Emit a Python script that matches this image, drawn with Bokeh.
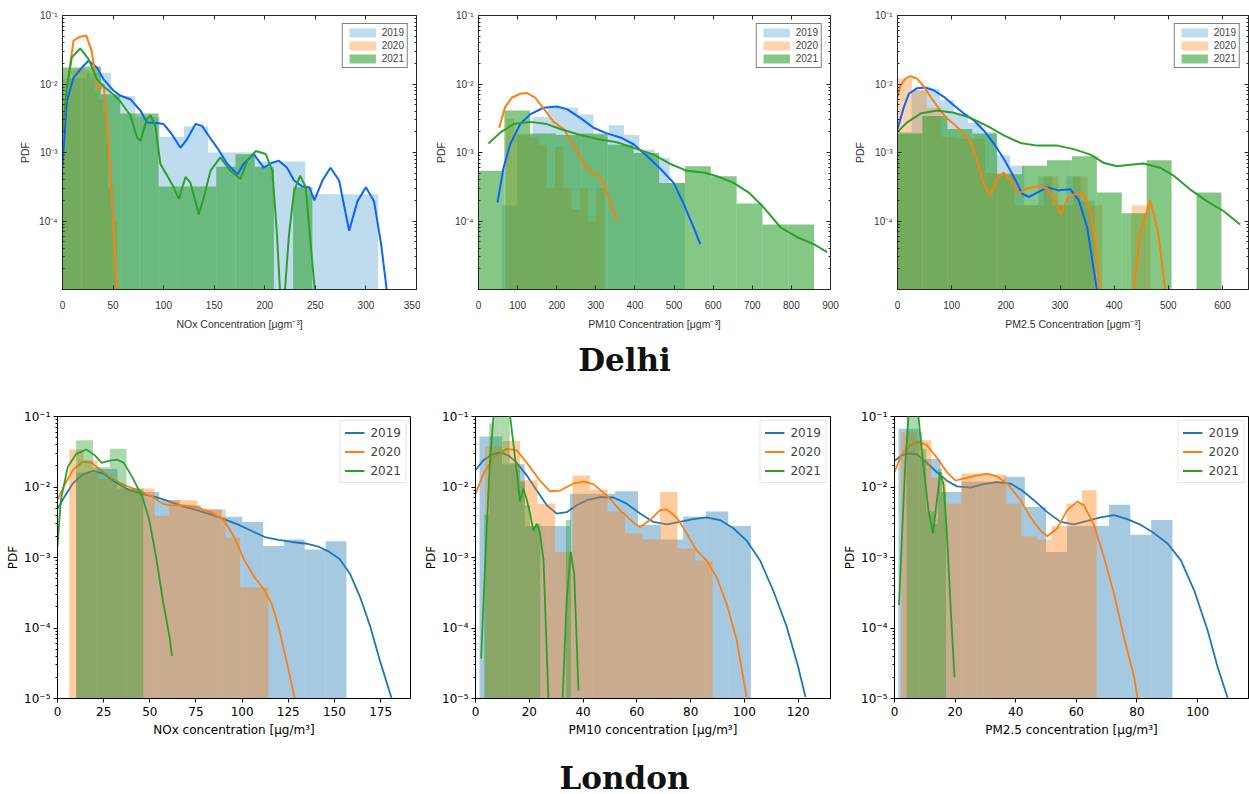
from bokeh.plotting import figure
from bokeh.models import (Range1d, FixedTicker, LinearAxis, LogAxis, Legend,
                          LegendItem, Div, CustomJSTickFormatter)
from bokeh.layouts import row, column
from bokeh.embed import file_html
from bokeh.resources import INLINE

NAN = float("nan")
years = ["2019", "2020", "2021"]

# ---------------- Delhi NOx ----------------
dn_b19_edges = [0, 24, 48, 72, 96, 120, 144, 168, 192, 216, 240, 264, 288, 312]
dn_b19_h = [0.012, 0.0146, 0.0066, 0.0033, 0.0017, 0.0024, 0.001, 0.001, 0.00074, 0.00074, 0.000245, 0.000245, 0.000245]
dn_b20_edges = [0, 4.5, 9, 13.5, 18, 22.5, 27, 31.5, 36, 40.5, 45, 49.5, 54]
dn_b20_h = [0.004, 0.012, 0.016, 0.017, 0.017, 0.016, 0.012, 0.008, 0.006, 0.004, 0.0003, 0.0001]
dn_b21_edges = [0, 19, 38, 57, 76, 95, 114, 133, 152, 171, 190, 209, 228, 247]
dn_b21_h = [0.0174, 0.018, 0.0071, 0.0037, 0.0037, 0.00032, 0.00032, 0.00032, 0.00062, 0.00094, 0.00062, 0, 0.00031]
dn_c19_x = [0, 4.3, 10.9, 19.2, 25.8, 34, 40.6, 50, 57, 67, 77, 83.6, 93.5, 100, 108, 116.6, 123, 131.5, 138, 144.7,
            153, 163, 173, 179, 189, 199, 207.5, 214, 222, 229, 237, 244, 249, 257, 265, 273.5, 283.4, 291.7, 300, 308, 315, 320.5]
dn_c19_y = [6.5e-4, 5.6e-3, 1.24e-2, 1.74e-2, 2.19e-2, 1.74e-2, 1.17e-2, 8.1e-3, 6.8e-3, 6.0e-3, 4.1e-3, 2.75e-3, 2.7e-3, 2.6e-3,
            1.86e-3, 1.17e-3, 1.55e-3, 2.6e-3, 2.45e-3, 1.74e-3, 1.17e-3, 6.8e-4, 4.8e-4, 6.8e-4, 9.5e-4, 6.0e-4, 7.1e-4, 7.6e-4,
            6.0e-4, 3.9e-4, 3.2e-4, 3.1e-4, 2.0e-4, 3.9e-4, 6.0e-4, 3.9e-4, 7.2e-5, 1.95e-4, 3.1e-4, 1.95e-4, 4.6e-5, 1e-5]
dn_c20_x = [0, 4.3, 10.9, 17.5, 23.5, 29, 34, 37, 40.6, 44, 49, 54]
dn_c20_y = [2.1e-3, 8.9e-3, 4.3e-2, 4.9e-2, 5.1e-2, 3.0e-2, 9.3e-3, 8.3e-3, 1.0e-2, 3.2e-3, 2.0e-4, 1e-5]
dn_c21_x = [0, 4.3, 9.2, 17.5, 25.8, 34, 40.6, 50, 57, 67, 73.7, 77, 83.6, 87, 91.8, 96.8, 103.4, 110, 115, 121.6, 126.5,
            134.8, 139.7, 146.3, 156, 166, 176, 182.7, 191, 201, 207.5, 212, 215, NAN, 220, 224, 229, 235, 240.5, 246, 249.4]
dn_c21_y = [1.86e-3, 8.9e-3, 2.45e-2, 3.3e-2, 2.3e-2, 1.17e-2, 9.3e-3, 7.1e-3, 5.6e-3, 3.5e-3, 1.66e-3, 1.48e-3, 3.1e-3,
            3.5e-3, 2.45e-3, 6.8e-4, 4.6e-4, 3.1e-4, 2.1e-4, 4.4e-4, 3.6e-4, 1.26e-4, 2.2e-4, 5.4e-4, 8.5e-4, 5.4e-4, 4.1e-4,
            7.6e-4, 1.05e-3, 9.5e-4, 5.4e-4, 6.5e-5, 1e-5, NAN, 1e-5, 6.5e-5, 2.75e-4, 4.6e-4, 3.1e-4, 3.6e-5, 1e-5]

# ---------------- Delhi PM10 ----------------
dp10_b19_edges = [60, 99, 138, 177, 216, 255, 294, 333, 372, 411, 450, 489, 528]
dp10_b19_h = [0.00017, 0.0018, 0.0033, 0.0045, 0.0045, 0.0036, 0.0018, 0.0025, 0.0018, 0.0011, 0.00083, 0.00036]
dp10_b20_edges = [70, 91, 112, 133, 154, 175, 196, 217, 238, 259, 280, 301, 322]
dp10_b20_h = [0.0031, 0.0019, 0.0019, 0.0017, 0.0013, 0.0003, 0.0012, 0.0003, 0.00015, 0.0003, 0.0001, 0.0003]
dp10_b21_edges = [0, 66, 132, 198, 264, 330, 396, 462, 528, 594, 660, 726, 792, 858]
dp10_b21_h = [0.00054, 0.0041, 0.0019, 0.0018, 0.0019, 0.0013, 0.00098, 0.00036, 0.00063, 0.00045, 0.00018, 0.000089, 0.000089]
dp10_c19_x = [48.6, 64, 81, 106.6, 132, 166, 200.5, 226, 260, 294, 328, 362.6, 396.7, 430.8, 465, 499, 524.6, 550, 567]
dp10_c19_y = [1.86e-4, 6.0e-4, 1.32e-3, 2.6e-3, 3.6e-3, 4.5e-3, 4.7e-3, 4.3e-3, 3.2e-3, 2.3e-3, 1.9e-3, 1.66e-3, 1.32e-3,
              8.9e-4, 5.8e-4, 3.6e-4, 1.78e-4, 8.1e-5, 4.6e-5]
dp10_c20_x = [52.9, 68, 85, 106.6, 123.7, 145, 170.6, 192, 217.5, 243, 268.7, 290, 311, 324, 341, 354]
dp10_c20_y = [2.3e-3, 4.6e-3, 6.3e-3, 7.2e-3, 7.4e-3, 6.3e-3, 4.1e-3, 2.8e-3, 2.2e-3, 1.32e-3, 6.8e-4, 5.1e-4, 4.4e-4,
              3.1e-4, 1.58e-4, 1.0e-4]
dp10_c21_x = [25.6, 55.5, 89.6, 132, 175, 209, 251.7, 302.8, 354, 396.7, 448, 490.5, 533, 576, 610, 652.6, 691, 729, 772, 815, 857, 891.5]
dp10_c21_y = [1.35e-3, 1.95e-3, 2.6e-3, 2.8e-3, 2.6e-3, 2.2e-3, 1.86e-3, 1.58e-3, 1.41e-3, 1.17e-3, 9.3e-4, 6.8e-4,
              5.4e-4, 5.1e-4, 4.5e-4, 3.6e-4, 2.6e-4, 1.58e-4, 8.1e-5, 5.8e-5, 4.6e-5, 3.5e-5]

# ---------------- Delhi PM2.5 ----------------
dp25_b19_edges = [0, 26, 52, 78, 104, 130, 156, 182, 208, 234, 260, 286, 312, 338, 364]
dp25_b19_h = [0.002, 0.0081, 0.0085, 0.0058, 0.0037, 0.0027, 0.002, 0.00091, 0.00064, 0.00017, 0.00045, 0.00017, 0.00045, 0.0002]
dp25_b20_edges = [0, 27, 54, 81, 108, 135, 162, 189, 216, 243, 270, 297, 324, 351, 378, 405, 432, 467]
dp25_b20_h = [0.012, 0.0081, 0.0045, 0.0017, 0.0016, 0.0016, 0.0005, 0.0005, 0.00017, 0.00017, 0.00045, 0.00017, 0.00045,
              0.00017, 0, 0, 0.00017]
dp25_b21_edges = [0, 46, 92, 138, 184, 230, 276, 322, 368, 414, 460, 506, 552, 598]
dp25_b21_h = [0.0019, 0.0034, 0.0022, 0.0019, 0.00048, 0.00064, 0.00077, 0.00088, 0.00026, 0.00013, 0.00077, 0, 0.00026]
dp25_c19_x = [0, 11.7, 20.9, 36.3, 51.7, 67, 85.5, 104, 122.4, 140.9, 159.3, 177.8, 196.3, 214.8, 230.2, 242.4, 257.9,
              276.4, 297.8, 319.4, 334.7, 350.2, 368]
dp25_c19_y = [2.2e-3, 4.6e-3, 7.2e-3, 8.7e-3, 8.9e-3, 8.1e-3, 6.5e-3, 4.9e-3, 3.7e-3, 2.95e-3, 2.1e-3, 1.35e-3, 8.1e-4,
              4.4e-4, 2.5e-4, 2.24e-4, 2.6e-4, 3.1e-4, 2.8e-4, 2.9e-4, 2.0e-4, 8.1e-5, 1e-5]
dp25_c20_x = [0, 5.5, 14.8, 24, 36.3, 48.6, 64, 76.3, 88.6, 104, 119.4, 134.8, 147, 159.4, 171.7, 184, 196.3, 208.6, 224,
              239.4, 257.9, 276.4, 291.7, 301, 313.3, 328.6, 344, 356, 365, 374, NAN, 435.7, 448, 466.5, 481.8, 494]
dp25_c20_y = [6.6e-3, 9.5e-3, 1.2e-2, 1.3e-2, 1.2e-2, 9.2e-3, 6.0e-3, 4.4e-3, 3.3e-3, 2.6e-3, 2.0e-3, 1.42e-3, 7.6e-4,
              3.5e-4, 2.4e-4, 4.2e-4, 5.1e-4, 3.9e-4, 2.5e-4, 3.0e-4, 3.2e-4, 3.0e-4, 1.86e-4, 1.26e-4, 2.1e-4, 2.5e-4,
              2.45e-4, 1.4e-4, 4.6e-5, 1e-5, NAN, 1e-5, 6.5e-5, 2.0e-4, 6.5e-5, 1e-5]
dp25_c21_x = [0, 17.8, 42.5, 73.3, 104, 134.8, 165.6, 196.3, 227, 257.9, 294.8, 325.5, 356.3, 380, 405, 429.5, 454, 485,
              509.5, 540, 571, 601.8, 632.6]
dp25_c21_y = [2.0e-3, 2.75e-3, 3.7e-3, 4.1e-3, 3.8e-3, 3.2e-3, 2.45e-3, 1.78e-3, 1.38e-3, 1.26e-3, 1.26e-3, 1.12e-3,
              9.3e-4, 7.1e-4, 6.3e-4, 6.6e-4, 6.9e-4, 6.0e-4, 4.6e-4, 2.9e-4, 1.95e-4, 1.4e-4, 8.9e-5]

# ---------------- London NOx ----------------
ln_b19_edges = [10, 21.3, 32.5, 43.8, 55.1, 66.3, 77.6, 88.9, 100.1, 111.4, 122.7, 133.9, 145.2, 156.5]
ln_b19_h = [0.016, 0.018, 0.0095, 0.0085, 0.0065, 0.0055, 0.0048, 0.0038, 0.0032, 0.00145, 0.0018, 0.0013, 0.0017]
ln_b20_edges = [6.4, 14.1, 21.8, 29.5, 37.2, 44.9, 52.6, 60.3, 68, 75.7, 83.4, 91.1, 98.8, 106.5, 114.2]
ln_b20_h = [0.034, 0.024, 0.013, 0.011, 0.0095, 0.0095, 0.0039, 0.0065, 0.0065, 0.0048, 0.0048, 0.0019, 0.00038, 0.00038]
ln_b21_edges = [10.1, 19.2, 28.3, 37.4, 46.5]
ln_b21_h = [0.046, 0.019, 0.035, 0.0095]
ln_c19_x = [0, 3.7, 8.3, 13.8, 19.3, 24.9, 31.3, 38.7, 46, 53.4, 60.8, 68, 75.5, 82.9, 90.2, 97.6, 105, 112.3, 119.7, 127,
            134.4, 141.8, 147.3, 152.8, 158.4, 163.9, 169.4, 175, 181]
ln_c19_y = [4.9e-3, 7.2e-3, 1.12e-2, 1.51e-2, 1.7e-2, 1.55e-2, 1.17e-2, 9.1e-3, 7.9e-3, 7.2e-3, 6.2e-3, 5.3e-3, 4.7e-3,
            4.1e-3, 3.5e-3, 2.95e-3, 2.4e-3, 1.95e-3, 1.78e-3, 1.66e-3, 1.58e-3, 1.41e-3, 1.2e-3, 9.5e-4, 5.9e-4, 2.75e-4,
            1.05e-4, 3.2e-5, 1e-5]
ln_c20_x = [0, 3.7, 8.3, 13.8, 18.4, 23.9, 29.5, 36.8, 44.2, 51.6, 57, 60.8, 68, 75.5, 82.9, 90.2, 95.7, 101.3, 106.8,
            112.3, 116, 119.7, 124.3, 128.5]
ln_c20_y = [6.6e-3, 1.05e-2, 1.74e-2, 2.3e-2, 2.2e-2, 1.7e-2, 1.32e-2, 1.05e-2, 8.9e-3, 7.2e-3, 5.8e-3, 5.5e-3, 5.5e-3,
            5.2e-3, 4.4e-3, 3.4e-3, 1.95e-3, 9.1e-4, 5.2e-4, 3.4e-4, 2.2e-4, 1.05e-4, 3.2e-5, 1e-5]
ln_c21_x = [0, 1.8, 5.5, 10.1, 15.7, 20.3, 23.9, 27.6, 32.2, 35.9, 40.5, 46, 49.7, 53.4, 57.1, 60.8, 62]
ln_c21_y = [1.41e-3, 6.5e-3, 1.9e-2, 2.95e-2, 3.4e-2, 2.8e-2, 2.2e-2, 2.35e-2, 2.45e-2, 2.2e-2, 1.38e-2, 7.2e-3, 3.4e-3,
            1.02e-3, 2.45e-4, 7.2e-5, 4.0e-5]

# ---------------- London PM10 ----------------
lp10_b19_edges = [1.5, 9.9, 18.3, 26.7, 35.1, 43.5, 51.9, 60.4, 68.8, 77.2, 85.6, 94, 102.4]
lp10_b19_h = [0.052, 0.021, 0.0028, 0.0028, 0.008, 0.008, 0.0087, 0.0029, 0.0018, 0.0038, 0.0045, 0.0028]
lp10_b20_edges = [3.6, 10.1, 16.6, 23.1, 29.6, 36.1, 42.6, 49.1, 55.6, 62.1, 68.6, 75.1, 81.7, 88.2]
lp10_b20_h = [0.038, 0.045, 0.0125, 0.0058, 0.0012, 0.0146, 0.0092, 0.0045, 0.0022, 0.0018, 0.0085, 0.00134, 0.00091]
lp10_b21_edges = [3.2, 5.1, 7.0, 8.9, 10.8, 12.7, 14.6, 16.5, 18.4, 20.3, 22.2, 24.1, 26.0, 27.9, 29.8, 31.7, 33.6, 35.5]
lp10_b21_h = [0.004, 0.08, 0.15, 0.15, 0.12, 0.022, 0.021, 0.012, 0.0055, 0.0028, 0.003, 0, 0, 0, 0, 0, 0.0034]
lp10_c19_x = [0, 3, 6.1, 9.2, 12.3, 15.4, 19.1, 22.8, 26.5, 30.2, 33.9, 37.6, 41.4, 46.3, 51.3, 56.2, 61.2, 66.1, 71.1,
              76, 81, 85.9, 90.9, 95.9, 100.8, 105.8, 110.7, 115.7, 120, 122.7]
lp10_c19_y = [1.74e-2, 2.4e-2, 2.9e-2, 3.1e-2, 2.8e-2, 2.2e-2, 1.45e-2, 8.9e-3, 5.5e-3, 4.2e-3, 4.4e-3, 5.5e-3, 6.5e-3,
              7.2e-3, 7.1e-3, 5.8e-3, 4.2e-3, 3.2e-3, 2.95e-3, 3.2e-3, 3.5e-3, 3.7e-3, 3.4e-3, 2.6e-3, 1.74e-3, 9.1e-4,
              3.4e-4, 1.05e-4, 2.8e-5, 1.05e-5]
lp10_c20_x = [0, 3, 6.7, 11.6, 15.4, 19.1, 24, 27.7, 31.5, 36.4, 40.1, 43.8, 48.8, 53.7, 59.3, 61.2, 64.9, 68.6, 71.1,
              74.8, 78.5, 82.2, 85.9, 89.7, 93.4, 97.1, 100.8]
lp10_c20_y = [7.9e-3, 1.55e-2, 2.6e-2, 3.5e-2, 3.3e-2, 2.2e-2, 1.23e-2, 8.7e-3, 8.9e-3, 1.12e-2, 1.2e-2, 1.1e-2, 7.6e-3,
              4.7e-3, 3.0e-3, 2.7e-3, 3.4e-3, 4.7e-3, 4.8e-3, 3.7e-3, 2.2e-3, 1.26e-3, 9.1e-4, 5.2e-4, 2.2e-4, 6.8e-5, 1.05e-5]
lp10_c21_x = [2.1, 3, 4.2, 5.4, 6.7, 8.5, 11, 12.9, 14.1, 15.4, 16.6, 17.8, 19.1, 20.3, 21.5, 22.8, 24, 25.3, 27.1, NAN,
              32.4, 33.9, 35.4, 36.7, 38.3]
lp10_c21_y = [3.7e-5, 2.45e-4, 2.7e-3, 2.4e-2, 0.1, 0.135, 0.123, 0.1, 4.1e-2, 1.55e-2, 6.2e-3, 9.5e-3, 6.5e-3, 4.2e-3,
              2.4e-3, 3.0e-3, 2.2e-3, 9.1e-4, 1e-5, NAN, 1e-5, 2.45e-4, 1.2e-3, 5.9e-4, 1.3e-5]

# ---------------- London PM2.5 ----------------
lp25_b19_edges = [1.3, 8.25, 15.2, 22.2, 29.1, 36.1, 43, 50, 56.9, 63.9, 70.8, 77.8, 84.7, 91.7]
lp25_b19_h = [0.067, 0.025, 0.0085, 0.012, 0.012, 0.014, 0.0052, 0.0012, 0.0028, 0.0028, 0.0056, 0.0021, 0.0034]
lp25_b20_edges = [2.2, 7.2, 12.1, 17.1, 22, 27, 32, 36.9, 41.9, 46.9, 51.8, 56.8, 61.8, 66.7]
lp25_b20_h = [0.06, 0.046, 0.0135, 0.0058, 0.0155, 0.0155, 0.0151, 0.0058, 0.002, 0.0018, 0.0028, 0.0058, 0.009]
lp25_b21_edges = [4.0, 5.3, 6.6, 7.9, 9.2, 10.5, 11.8, 13.1, 14.4, 15.7, 17.0]
lp25_b21_h = [0.12, 0.15, 0.15, 0.06, 0.035, 0.0045, 0.0045, 0.003, 0.018, 0.0085]
lp25_c19_x = [0, 2.4, 4.6, 7.4, 10.7, 14, 17.3, 20.6, 25, 29.4, 33.8, 38.3, 42.1, 46, 50.4, 54.8, 59.2, 63.6, 68, 72.4,
              76.8, 81.3, 85.7, 90.1, 94.5, 98.9, 103.3, 106.6, 110]
lp25_c19_y = [2.35e-2, 2.8e-2, 3.0e-2, 2.9e-2, 2.2e-2, 1.62e-2, 1.23e-2, 1.02e-2, 9.8e-3, 1.1e-2, 1.17e-2, 1.12e-2,
              8.9e-3, 6.5e-3, 4.4e-3, 3.2e-3, 2.95e-3, 3.3e-3, 3.7e-3, 4.0e-3, 3.5e-3, 2.9e-3, 2.2e-3, 1.58e-3, 9.1e-4,
              3.4e-4, 9.3e-5, 2.8e-5, 1e-5]
lp25_c20_x = [0, 2.4, 5.2, 7.9, 10.7, 14, 17.3, 20.1, 22.8, 27.2, 30.5, 33.8, 37.2, 41.6, 44.9, 48.2, 50.4, 53.7, 57,
              60.3, 62.5, 65.8, 69.1, 72.4, 75.7, 79.1, 80.2]
lp25_c20_y = [1.62e-2, 2.95e-2, 3.9e-2, 4.4e-2, 3.9e-2, 2.6e-2, 1.62e-2, 1.23e-2, 1.32e-2, 1.45e-2, 1.55e-2, 1.41e-2,
              1.12e-2, 6.5e-3, 3.7e-3, 2.4e-3, 2.0e-3, 2.6e-3, 4.7e-3, 6.2e-3, 5.5e-3, 2.9e-3, 1.02e-3, 3.1e-4, 7.4e-5,
              2.0e-5, 1e-5]
lp25_c21_x = [1.5, 2.4, 3.5, 4.6, 5.7, 6.8, 7.9, 9.0, 10.1, 11.2, 12.7, 14, 15.1, 16.2, 17.3, 18.4, 19.8]
lp25_c21_y = [2.1e-4, 1.74e-3, 1.9e-2, 0.1, 0.21, 0.15, 0.1, 3.3e-2, 1.23e-2, 4.7e-3, 2.2e-3, 6.5e-3, 1.62e-2, 1.05e-2,
              2.2e-3, 2.45e-4, 2.0e-5]

# ---------------- tick values / labels ----------------
dn_xticks = [0, 50, 100, 150, 200, 250, 300, 350]
dp10_xticks = [0, 100, 200, 300, 400, 500, 600, 700, 800, 900]
dp25_xticks = [0, 100, 200, 300, 400, 500, 600]
ln_xticks = [0, 25, 50, 75, 100, 125, 150, 175]
lp10_xticks = [0, 20, 40, 60, 80, 100, 120]
lp25_xticks = [0, 20, 40, 60, 80, 100]
delhi_yticks = [1e-4, 1e-3, 1e-2, 1e-1]
london_yticks = [1e-5, 1e-4, 1e-3, 1e-2, 1e-1]
log_minor = [k * 10.0 ** e for e in (-5, -4, -3, -2) for k in range(2, 10)]

delhi_xlabels = ["NOx Concentration [\u03bcgm\u207b\u00b3]", "PM10 Concentration [\u03bcgm\u207b\u00b3]",
                 "PM2.5 Concentration [\u03bcgm\u207b\u00b3]"]
london_xlabels = ["NOx concentration [\u03bcg/m\u00b3]", "PM10 concentration [\u03bcg/m\u00b3]",
                  "PM2.5 concentration [\u03bcg/m\u00b3]"]

DELHI_BAR = [("#0072BD", 0.25), ("#ff7f0e", 0.35), ("#2ca02c", 0.58)]
DELHI_LINE = ["#0a64ff", "#ff7f0e", "#2ca02c"]
LONDON_C = ["#1f77b4", "#ff7f0e", "#2ca02c"]

SUP_JS = """
const sup = {"-": "\\u207b", "0": "\\u2070", "1": "\\u00b9", "2": "\\u00b2", "3": "\\u00b3", "4": "\\u2074",
             "5": "\\u2075", "6": "\\u2076", "7": "\\u2077", "8": "\\u2078", "9": "\\u2079"};
const e = Math.round(Math.log10(tick));
let s = "";
for (const c of String(e)) { s += sup[c]; }
return "10" + s;
"""
BLANK_JS = "return '.';"


def add_bars(p, edges, heights, color, alpha):
    L, R, T = [], [], []
    for i, h in enumerate(heights):
        if h > 0:
            L.append(edges[i]); R.append(edges[i + 1]); T.append(h)
    return p.quad(left=L, right=R, top=T, bottom=1e-8, fill_color=color, fill_alpha=alpha, line_color=None)


def base_fig(width, height, left, right, top, bottom, xmax):
    p = figure(width=width, height=height, x_range=Range1d(0, xmax), y_range=Range1d(1e-5, 1e-1),
               y_axis_type="log", output_backend="svg", toolbar_location=None,
               min_border_left=left, min_border_right=right, min_border_top=top, min_border_bottom=bottom)
    p.grid.visible = False
    p.background_fill_color = "white"
    p.border_fill_color = "white"
    return p


def delhi_panel(width, left, right, xmax, xticks, xlabel, bars, curves):
    p = base_fig(width, 335, left, right, 15, 46, xmax)
    font = "Liberation Sans"
    p.xaxis.ticker = FixedTicker(ticks=xticks)
    p.yaxis.ticker = FixedTicker(ticks=delhi_yticks, minor_ticks=log_minor)
    p.yaxis.formatter = CustomJSTickFormatter(code=SUP_JS)
    for ax in [p.xaxis[0], p.yaxis[0]]:
        ax.major_tick_in = 4
        ax.major_tick_out = 0
        ax.minor_tick_in = 2
        ax.minor_tick_out = 0
        ax.axis_line_color = "#262626"
        ax.major_tick_line_color = "#262626"
        ax.minor_tick_line_color = "#262626"
        ax.major_label_text_font = font
        ax.major_label_text_font_size = "10px"
        ax.major_label_text_color = "#333333"
        ax.axis_label_text_font = font
        ax.axis_label_text_font_size = "10.5px"
        ax.axis_label_text_font_style = "normal"
        ax.axis_label_text_color = "#333333"
    p.xaxis.minor_tick_line_color = None
    p.xaxis.major_label_standoff = 11
    p.xaxis.axis_label_standoff = 6
    p.yaxis.major_label_standoff = 5
    p.yaxis.axis_label_standoff = 5
    p.xaxis.axis_label = xlabel
    p.yaxis.axis_label = "PDF"
    top = LinearAxis(ticker=FixedTicker(ticks=xticks), formatter=CustomJSTickFormatter(code=BLANK_JS),
                     major_label_text_font_size="1px", major_label_text_color=None, major_label_standoff=0,
                     major_tick_in=4, major_tick_out=0, minor_tick_line_color=None,
                     axis_line_color="#262626", major_tick_line_color="#262626")
    p.add_layout(top, "above")
    right_ax = LogAxis(ticker=FixedTicker(ticks=delhi_yticks, minor_ticks=log_minor),
                       formatter=CustomJSTickFormatter(code=BLANK_JS),
                       major_label_text_font_size="1px", major_label_text_color=None,
                       major_label_standoff=0, major_tick_in=4, major_tick_out=0, minor_tick_in=2, minor_tick_out=0,
                       axis_line_color="#262626", major_tick_line_color="#262626", minor_tick_line_color="#262626")
    p.add_layout(right_ax, "right")
    p.outline_line_color = "#262626"
    rs = []
    for (edges, h), (c, a) in zip(bars, DELHI_BAR):
        rs.append(add_bars(p, edges, h, c, a))
    for (x, y), c in zip(curves, DELHI_LINE):
        p.line(x, y, line_color=c, line_width=2)
    leg = Legend(items=[LegendItem(label=yr, renderers=[r]) for yr, r in zip(years, rs)],
                 location="top_right", margin=8, padding=3, spacing=2, glyph_width=33, glyph_height=11,
                 label_height=11, label_standoff=3, label_text_font=font, label_text_font_size="10px",
                 border_line_color="black", border_line_width=1, background_fill_alpha=1.0)
    p.add_layout(leg)
    return p


def london_panel(width, left, right, xmax, xticks, xlabel, bars, curves):
    p = base_fig(width, 359, left, right, 31, 46, xmax)
    font = "DejaVu Sans"
    p.xaxis.ticker = FixedTicker(ticks=xticks)
    p.yaxis.ticker = FixedTicker(ticks=london_yticks, minor_ticks=log_minor)
    p.yaxis.formatter = CustomJSTickFormatter(code=SUP_JS)
    for ax in [p.xaxis[0], p.yaxis[0]]:
        ax.major_tick_in = 0
        ax.major_tick_out = 4
        ax.minor_tick_in = 0
        ax.minor_tick_out = 2
        ax.axis_line_color = "black"
        ax.major_tick_line_color = "black"
        ax.minor_tick_line_color = "black"
        ax.major_label_text_font = font
        ax.major_label_text_font_size = "12px"
        ax.major_label_text_color = "black"
        ax.axis_label_text_font = font
        ax.axis_label_text_font_size = "12px"
        ax.axis_label_text_font_style = "normal"
        ax.axis_label_text_color = "black"
    p.xaxis.minor_tick_line_color = None
    p.xaxis.major_label_standoff = 4
    p.xaxis.axis_label_standoff = 4
    p.yaxis.major_label_standoff = 3
    p.yaxis.axis_label_standoff = 1
    p.xaxis.axis_label = xlabel
    p.yaxis.axis_label = "PDF"
    p.outline_line_color = "black"
    lines = []
    for (edges, h), (x, y), c in zip(bars, curves, LONDON_C):
        add_bars(p, edges, h, c, 0.4)
        lines.append(p.line(x, y, line_color=c, line_width=1.8))
    leg = Legend(items=[LegendItem(label=yr, renderers=[r]) for yr, r in zip(years, lines)],
                 location="top_right", margin=4, padding=4, spacing=4, glyph_width=20, glyph_height=15,
                 label_height=15, label_standoff=6, label_text_font=font, label_text_font_size="12px",
                 border_line_color="#cccccc", border_line_width=1, background_fill_alpha=0.85)
    p.add_layout(leg)
    return p


d1 = delhi_panel(420, 62, 4, 350, dn_xticks, delhi_xlabels[0],
                 [(dn_b19_edges, dn_b19_h), (dn_b20_edges, dn_b20_h), (dn_b21_edges, dn_b21_h)],
                 [(dn_c19_x, dn_c19_y), (dn_c20_x, dn_c20_y), (dn_c21_x, dn_c21_y)])
d2 = delhi_panel(420, 58, 10, 900, dp10_xticks, delhi_xlabels[1],
                 [(dp10_b19_edges, dp10_b19_h), (dp10_b20_edges, dp10_b20_h), (dp10_b21_edges, dp10_b21_h)],
                 [(dp10_c19_x, dp10_c19_y), (dp10_c20_x, dp10_c20_y), (dp10_c21_x, dp10_c21_y)])
d3 = delhi_panel(409, 57, 1, 648, dp25_xticks, delhi_xlabels[2],
                 [(dp25_b19_edges, dp25_b19_h), (dp25_b20_edges, dp25_b20_h), (dp25_b21_edges, dp25_b21_h)],
                 [(dp25_c19_x, dp25_c19_y), (dp25_c20_x, dp25_c20_y), (dp25_c21_x, dp25_c21_y)])

l1 = london_panel(420, 57, 10, 191.2, ln_xticks, london_xlabels[0],
                  [(ln_b19_edges, ln_b19_h), (ln_b20_edges, ln_b20_h), (ln_b21_edges, ln_b21_h)],
                  [(ln_c19_x, ln_c19_y), (ln_c20_x, ln_c20_y), (ln_c21_x, ln_c21_y)])
l2 = london_panel(420, 55, 10, 132, lp10_xticks, london_xlabels[1],
                  [(lp10_b19_edges, lp10_b19_h), (lp10_b20_edges, lp10_b20_h), (lp10_b21_edges, lp10_b21_h)],
                  [(lp10_c19_x, lp10_c19_y), (lp10_c20_x, lp10_c20_y), (lp10_c21_x, lp10_c21_y)])
l3 = london_panel(409, 54, 1, 116.8, lp25_xticks, london_xlabels[2],
                  [(lp25_b19_edges, lp25_b19_h), (lp25_b20_edges, lp25_b20_h), (lp25_b21_edges, lp25_b21_h)],
                  [(lp25_c19_x, lp25_c19_y), (lp25_c20_x, lp25_c20_y), (lp25_c21_x, lp25_c21_y)])

title_style = {"text-align": "center", "font-family": "'DejaVu Serif', serif", "font-size": "31px",
               "font-weight": "bold", "color": "#111111"}
t1 = Div(text="Delhi", width=1249, height=50, margin=0, styles=dict(title_style, **{"line-height": "50px"}))
t2 = Div(text="London", width=1249, height=50, margin=0,
         styles=dict(title_style, **{"line-height": "30px", "padding-top": "19px", "box-sizing": "border-box"}))

layout = column(row(d1, d2, d3, spacing=0), t1, row(l1, l2, l3, spacing=0), t2, spacing=0)

open("out.html", "w").write(file_html(layout, INLINE))
